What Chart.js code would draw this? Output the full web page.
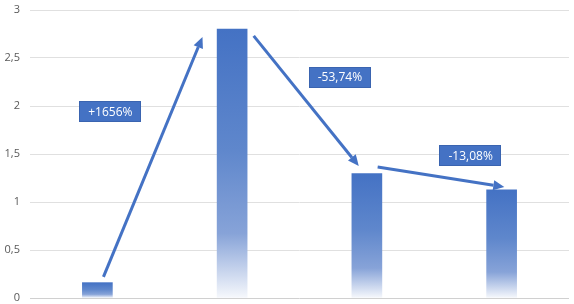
<!DOCTYPE html>
<html>
<head>
<meta charset="utf-8">
<script src="https://cdn.jsdelivr.net/npm/chart.js@4.4.0/dist/chart.umd.min.js"></script>
<style>
  html, body { margin: 0; padding: 0; background: #fff; }
  #wrap { width: 574px; height: 304px; }
</style>
</head>
<body>
<div id="wrap"><canvas id="chart"></canvas></div>
<script>
const categories = ["1", "2", "3", "4"];
const values = [0.16, 2.8, 1.295, 1.126];
const yTicks = [0, 0.5, 1, 1.5, 2, 2.5, 3];
const changeLabels = ["+1656%", "-53,74%", "-13,08%"];

// arrows and boxes in data space: [category index, value]
const arrows = [
  { from: [0.045, 0.22], to: [0.78, 2.72] },
  { from: [1.16, 2.73], to: [1.94, 1.375] },
  { from: [2.08, 1.365], to: [3.02, 1.156] }
];
const boxAt = [[0.096, 1.94], [1.80, 2.30], [2.77, 1.48]];

const blue = "#4472C4";

const arrowPlugin = {
  id: "arrows",
  afterDatasetsDraw(chart) {
    const { ctx, scales: { x, y } } = chart;
    ctx.save();
    ctx.strokeStyle = blue;
    ctx.fillStyle = blue;
    ctx.lineWidth = 3;
    arrows.forEach(a => {
      const x1 = x.getPixelForValue(a.from[0]), y1 = y.getPixelForValue(a.from[1]);
      const x2 = x.getPixelForValue(a.to[0]), y2 = y.getPixelForValue(a.to[1]);
      const ang = Math.atan2(y2 - y1, x2 - x1);
      const head = 11, half = 5;
      const bx = x2 - head * Math.cos(ang), by = y2 - head * Math.sin(ang);
      ctx.beginPath();
      ctx.moveTo(x1, y1);
      ctx.lineTo(bx, by);
      ctx.stroke();
      ctx.beginPath();
      ctx.moveTo(x2, y2);
      ctx.lineTo(bx + half * Math.sin(ang), by - half * Math.cos(ang));
      ctx.lineTo(bx - half * Math.sin(ang), by + half * Math.cos(ang));
      ctx.closePath();
      ctx.fill();
    });

    ctx.font = "12px 'Open Sans', sans-serif";
    ctx.textAlign = "center";
    ctx.textBaseline = "middle";
    changeLabels.forEach((t, i) => {
      const cx = x.getPixelForValue(boxAt[i][0]), cy = y.getPixelForValue(boxAt[i][1]);
      const w = ctx.measureText(t).width + 18, h = 21;
      ctx.fillStyle = blue;
      ctx.fillRect(Math.round(cx - w / 2), Math.round(cy - h / 2), Math.round(w), h);
      ctx.strokeStyle = "#3a64b0";
      ctx.lineWidth = 1;
      ctx.strokeRect(Math.round(cx - w / 2) + 0.5, Math.round(cy - h / 2) + 0.5, Math.round(w) - 1, h - 1);
      ctx.fillStyle = "#fff";
      ctx.fillText(t, cx, cy + 0.5);
    });
    ctx.restore();
  }
};

function barFill(c) {
  const chart = c.chart;
  if (!chart.chartArea || c.type !== "data") return blue;
  const y = chart.scales.y;
  const top = y.getPixelForValue(c.raw), bottom = y.getPixelForValue(0);
  const g = chart.ctx.createLinearGradient(0, top, 0, bottom);
  g.addColorStop(0, "#4472C4");
  g.addColorStop(0.45, "#5f87cc");
  g.addColorStop(0.76, "#87a3d8");
  g.addColorStop(1, "#f6f8fc");
  return g;
}

new Chart(document.getElementById("chart"), {
  type: "bar",
  data: {
    labels: categories,
    datasets: [{
      data: values,
      backgroundColor: barFill,
      borderWidth: 0,
      barThickness: 30
    }]
  },
  options: {
    responsive: true,
    maintainAspectRatio: false,
    animation: false,
    layout: { padding: { left: 0, right: 5, top: 10, bottom: 6 } },
    plugins: {
      legend: { display: false },
      tooltip: { enabled: false }
    },
    scales: {
      x: { display: false },
      y: {
        min: 0,
        max: 3,
        afterBuildTicks: s => { s.ticks = yTicks.map(v => ({ value: v })); },
        afterFit: s => { s.width = 30; s.paddingTop = 0; s.paddingBottom = 0; },
        border: { display: false },
        grid: {
          drawTicks: false,
          color: c => (c.tick && c.tick.value === 0 ? "#d0d0d0" : "#e0e0e0")
        },
        ticks: {
          padding: 10,
          color: "#595959",
          font: { family: "'Open Sans', sans-serif", size: 11 },
          callback: v => String(v).replace(".", ",")
        }
      }
    }
  },
  plugins: [arrowPlugin]
});
</script>
</body>
</html>
